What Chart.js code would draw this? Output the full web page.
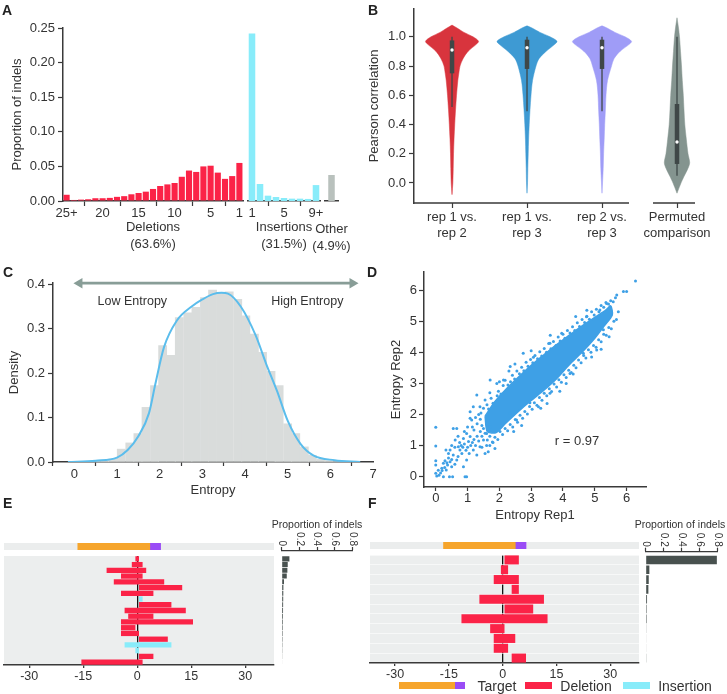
<!DOCTYPE html>
<html>
<head>
<meta charset="utf-8">
<script src="https://cdn.jsdelivr.net/npm/chart.js@4.4.1/dist/chart.umd.min.js"></script>
<style>
  body { margin: 0; background: #fff; width: 727px; height: 694px; position: relative; overflow: hidden;
         font-family: 'Liberation Sans', Arial, sans-serif; color: #333; }
  canvas { position: absolute; }
  .pl { position: absolute; font-weight: bold; font-size: 14px; line-height: 14px; color: #222; }
  .tx { position: absolute; white-space: nowrap; transform: translate(-50%, -50%); }
  .sw { position: absolute; height: 7px; }
</style>
</head>
<body>
<canvas id="a1"></canvas><canvas id="a2"></canvas><canvas id="a3"></canvas>
<canvas id="b"></canvas>
<canvas id="c"></canvas>
<canvas id="d"></canvas>
<canvas id="et"></canvas><canvas id="em"></canvas><canvas id="ep"></canvas>
<canvas id="ft"></canvas><canvas id="fm"></canvas><canvas id="fp"></canvas>

<div class="pl" style="left:2px;top:3px">A</div>
<div class="pl" style="left:368px;top:3px">B</div>
<div class="pl" style="left:3px;top:265px">C</div>
<div class="pl" style="left:367px;top:265px">D</div>
<div class="pl" style="left:3px;top:496px">E</div>
<div class="pl" style="left:368px;top:496px">F</div>

<div class="tx" style="left:317px;top:524px;font-size:10.5px;line-height:10.5px">Proportion of indels</div>
<div class="tx" style="left:680px;top:524px;font-size:10.5px;line-height:10.5px">Proportion of indels</div>

<div class="sw" style="left:399px;top:682px;width:56px;background:#f6a52c"></div>
<div class="sw" style="left:455px;top:682px;width:10px;background:#9a4cf6"></div>
<div class="tx" style="left:497px;top:686px;font-size:14px;line-height:14px">Target</div>
<div class="sw" style="left:525px;top:682px;width:27px;background:#fb2347"></div>
<div class="tx" style="left:586px;top:686px;font-size:14px;line-height:14px">Deletion</div>
<div class="sw" style="left:623px;top:682px;width:27px;background:#88ecfa"></div>
<div class="tx" style="left:685px;top:686px;font-size:14px;line-height:14px">Insertion</div>

<script>
// ---- panel A: indel size distribution
const delLabels = ['25+','24','23','22','21','20','19','18','17','16','15','14','13','12','11','10','9','8','7','6','5','4','3','2','1'];
const delValues = [0.009,0.0015,0.002,0.0025,0.004,0.004,0.0045,0.006,0.007,0.0097,0.0116,0.0135,0.0174,0.0217,0.024,0.026,0.035,0.044,0.042,0.050,0.051,0.041,0.032,0.036,0.055];
const delShown = ['25+','20','15','10','5','1'];
const insLabels = ['1','2','3','4','5','6','7','8','9+'];
const insValues = [0.242,0.0246,0.0077,0.0058,0.0043,0.0034,0.0034,0.003,0.023];
const insShown = ['1','5','9+'];
const otherValues = [0.0376];
const propTicks = [0, 0.05, 0.10, 0.15, 0.20, 0.25];

// ---- panel B: correlation between replicates
const bLabels = [['rep 1 vs.','rep 2'],['rep 1 vs.','rep 3'],['rep 2 vs.','rep 3'],['Permuted','comparison']];
const corrTicks = [0, 0.2, 0.4, 0.6, 0.8, 1.0];
const vLevels = [
  [-0.08,0,0.1,0.2,0.3,0.4,0.5,0.6,0.7,0.75,0.8,0.85,0.9,0.95,0.97,1.0,1.03,1.06,1.08],
  [-0.07,0,0.1,0.2,0.3,0.4,0.5,0.6,0.7,0.8,0.85,0.9,0.95,0.97,1.0,1.03,1.06,1.075],
  [-0.07,0,0.1,0.2,0.3,0.4,0.5,0.6,0.7,0.8,0.85,0.9,0.95,0.97,1.0,1.03,1.06,1.075],
  [-0.07,0,0.04,0.1,0.14,0.2,0.3,0.4,0.5,0.6,0.7,0.8,0.9,1.0,1.06,1.13]
];
const vDens = [
  [0,0.027,0.04,0.05,0.067,0.09,0.117,0.15,0.193,0.227,0.267,0.367,0.533,0.817,0.883,0.7,0.4,0.167,0],
  [0,0.017,0.027,0.04,0.053,0.073,0.1,0.133,0.183,0.3,0.4,0.633,0.933,1,0.767,0.433,0.167,0],
  [0,0.017,0.04,0.053,0.073,0.09,0.113,0.133,0.183,0.317,0.4,0.6,0.917,0.983,0.767,0.433,0.167,0],
  [0,0.133,0.223,0.367,0.423,0.367,0.31,0.26,0.233,0.21,0.177,0.15,0.117,0.083,0.05,0]
];
const whiskerLo = [0.52, 0.49, 0.49, 0.05];
const whiskerHi = [1.0, 1.0, 1.0, 1.0];
const boxLo = [0.75, 0.78, 0.78, 0.13];
const boxHi = [0.975, 0.98, 0.98, 0.54];
const medians = [0.91, 0.925, 0.925, 0.28];

// ---- panel C: entropy histogram + density
const histX = [0.51,0.71,0.9,1.1,1.3,1.49,1.68,1.88,2.07,2.27,2.46,2.66,2.85,3.05,3.24,3.44,3.63,3.83,4.02,4.22,4.41,4.61,4.8,5.0,5.19,5.39,5.58,5.78,5.97,6.17];
const histY = [0.002,0.003,0.007,0.029,0.043,0.064,0.123,0.172,0.262,0.24,0.325,0.336,0.348,0.37,0.387,0.381,0.383,0.366,0.329,0.288,0.247,0.204,0.172,0.086,0.064,0.034,0.015,0.006,0.003,0.001];
const kdeX = [-0.15,0.5,1.0,1.25,1.5,1.75,1.9,2.1,2.4,2.75,3.0,3.25,3.45,3.6,3.9,4.25,4.5,4.75,5.0,5.3,5.6,6.1,6.7];
const kdeY = [0,0.003,0.01,0.027,0.058,0.11,0.176,0.258,0.318,0.35,0.366,0.378,0.381,0.379,0.35,0.285,0.22,0.16,0.093,0.041,0.015,0.004,0];
const entropyTicks = [0,1,2,3,4,5,6,7];
const densityTicks = [0, 0.1, 0.2, 0.3, 0.4];
const arrowSpan = [0.12, 6.52];

// ---- panel D: entropy rep1 vs rep2 (dense core outline + individual guides)
const corePts = [[1.55,1.95],[1.85,2.4],[2.2,2.8],[2.6,3.2],[3.0,3.58],[3.4,3.92],[3.8,4.25],[4.2,4.55],[4.6,4.85],[5.0,5.12],[5.3,5.32],[5.5,5.48],
  [5.55,5.2],[5.3,4.85],[5.0,4.45],[4.6,4.0],[4.2,3.6],[3.8,3.15],[3.4,2.78],[3.0,2.45],[2.6,2.1],[2.2,1.72],[1.9,1.42],[1.62,1.45],[1.55,1.95]];
const sparsePts = [[0,1.59],[0,0.99],[0,0.51],[0,0.38],[0,0.11],[0.03,0.02],[0.08,0.21],[0.19,0.27],[0.24,0.43],[0.29,0.51],[0.37,0.38],[0.45,0.48],[0.5,0.32],[0.53,0],[0.43,0],[0.24,0],[0.32,0.86],[0.45,0.86],[0.55,1.55],[0.66,1.55],[0.61,1.18],[0.71,0.96],[0.76,0.86],[0.82,0.75],[0.92,0],[0.97,0],[0.87,0.32],[0.66,0.54],[0.97,0.54],[1.03,1.13],[1.08,1.29],[0.97,1.39],[0.87,1.23],[1.13,1.82],[1.08,1.88],[1.29,2.63],[1.18,0.86],[1.29,0.7],[1.39,0.96],[1.5,1.18],[1.55,0.75],[1.65,0.8],[1.6,1.39],[1.71,1.61],[1.86,0.91],[1.92,3.0],[2.13,3.11],[2.49,3.62],[3.07,3.84],[4.22,3.32],[4.32,3.3],[3.59,2.68],[3.23,2.25],[2.96,2.38],[2.54,1.82],[2.34,2.04],[2.07,1.71],[4.64,3.97],[5.06,4.07],[5.27,4.72],[5.48,5.47],[5.69,5.84],[5.9,5.95],[6.0,5.95],[6.28,6.29],[3.96,4.61],[3.59,4.29],[2.75,3.97],[2.34,3.54],[1.71,3.11],[1.55,2.47],[1.39,2.25],[1.18,2.25],[1.08,2.09],[4.74,5.14],[5.16,5.36],[5.37,5.57],
  [0.1,0.05],[0.15,0.12],[0.2,0.2],[0.28,0.3],[0.33,0.22],[0.35,0.45],[0.4,0.6],[0.5,0.55],[0.55,0.7],[0.6,0.4],[0.7,0.65],[0.75,1.1],[0.8,1.0],[0.85,0.95],[0.9,1.05],[0.95,0.85],[1.0,0.95],[1.05,0.75],[1.1,1.0],[1.15,1.1],[1.2,1.2],[1.25,1.0],[1.3,1.3],[1.35,1.15],[1.4,1.45],[1.45,1.3],[1.5,1.55],[1.55,1.4],[1.2,1.5],[1.3,1.7],[1.4,1.85],[1.45,1.65],[1.35,2.0],[1.25,1.9],[1.15,1.6],[1.0,1.6],[0.9,1.45],[0.7,1.3],[0.5,1.0],[0.4,0.75],[0.6,0.95],[1.7,1.0],[1.8,1.1],[1.6,1.0],[1.45,0.95]];
const edgePts = [[1.42,2.05],[1.5,2.2],[1.61,2.31],[1.66,2.18],[1.74,2.52],[1.8,2.36],[1.93,2.6],[1.97,2.75],[2.05,2.66],[2.12,2.93],[2.18,3.1],[2.27,2.95],[2.35,3.05],[2.41,3.26],[2.48,3.14],[2.55,3.4],[2.63,3.31],[2.7,3.52],[2.77,3.41],[2.84,3.68],[2.9,3.55],[2.98,3.77],[3.05,3.66],[3.12,3.9],[3.2,3.79],[3.27,4.02],[3.33,3.88],[3.41,4.12],[3.48,4.0],[3.55,4.28],[3.62,4.11],[3.7,4.35],[3.78,4.22],[3.85,4.49],[3.91,4.36],[4.0,4.58],[4.06,4.45],[4.14,4.7],[4.22,4.62],[4.3,4.82],[4.37,4.7],[4.45,4.95],[4.52,4.83],[4.6,5.05],[4.68,4.96],[4.75,5.16],[4.83,5.06],[4.9,5.3],[4.98,5.2],[5.05,5.38],[5.13,5.3],[5.2,5.5],[5.28,5.45],[5.35,5.6],[5.43,5.55],[5.5,5.66],[5.58,5.62],[5.65,5.75],
  [1.62,1.18],[1.7,1.3],[1.78,1.12],[1.86,1.27],[1.95,1.2],[2.02,1.45],[2.1,1.36],[2.18,1.55],[2.26,1.48],[2.34,1.68],[2.42,1.6],[2.5,1.84],[2.57,1.75],[2.65,1.98],[2.73,1.88],[2.8,2.1],[2.88,2.02],[2.95,2.26],[3.03,2.17],[3.1,2.38],[3.18,2.3],[3.26,2.55],[3.34,2.46],[3.41,2.68],[3.49,2.6],[3.57,2.83],[3.64,2.74],[3.72,2.98],[3.8,2.88],[3.87,3.12],[3.95,3.04],[4.03,3.28],[4.1,3.19],[4.18,3.42],[4.26,3.35],[4.34,3.58],[4.41,3.5],[4.49,3.75],[4.57,3.66],[4.65,3.9],[4.72,3.82],[4.8,4.08],[4.88,4.0],[4.96,4.22],[5.04,4.16],[5.12,4.4],[5.2,4.34],[5.28,4.58],[5.36,4.55],[5.44,4.8],[5.52,4.76],[5.6,5.0],[5.68,5.05],[5.74,5.3],
  [2.3,3.4],[2.0,3.05],[3.0,4.05],[3.6,4.55],[4.4,5.15],[4.1,3.0],[3.5,2.35],[2.7,1.65],[4.9,3.85],[5.2,4.1],[1.7,2.7],[2.45,1.45],[3.3,2.2],[4.75,5.35],[3.9,2.75],[5.45,4.5]];
const repTicks = [0,1,2,3,4,5,6];

// ---- panels E and F: indel profiles for two targets
const posTicks = [-30, -15, 0, 15, 30];
const fracTicks = [0, 0.2, 0.4, 0.6, 0.8];
const guideE = [-16.5, 3.5], pamE = [3.5, 6.5];
const eDel = [[-0.5,0.5],[-1.5,1.5],[-8.5,2.5],[-4.5,1.5],[-6.5,7.5],[0.5,12.5],[-4.5,4.5],null,[0.5,9.5],[-3.5,13.5],[-2.5,4.5],[-4.5,15.5],[-4.5,-0.5],[-4.5,0.5],[0.5,8.5],null,null,[0.5,4.5],[-15.5,1.5]];
const eIns = [null,null,null,null,null,null,null,[0.5,1.5],null,null,null,null,null,null,null,[-3.5,9.5],[-0.5,0.5],null,null];
const eProp = [0.087,0.068,0.064,0.057,0.026,0.019,0.018,0.017,0.016,0.015,0.014,0.013,0.012,0.011,0.010,0.009,0.008,0.007,0.006];
const guideF = [-16.5, 3.5], pamF = [3.5, 6.5];
const fDel = [[0.5,4.5],[-0.5,1.5],[-2.5,4.5],[2.5,4.5],[-6.5,11.5],[0.5,8.5],[-11.5,12.5],[-3.5,0.5],[-2.5,3.5],[-2.5,1.5],[2.5,6.5]];
const fIns = [null,null,null,null,null,null,null,null,null,null,null];
const fProp = [0.795,0.041,0.034,0.03,0.015,0.011,0.011,0.007,0.005,0.005,0.004];

const FONT = "'Liberation Sans', Arial, sans-serif";
const AX = '#3a3a3a';
const RED = '#fb2347', CYAN = '#88ecfa', ORANGE = '#f6a52c', PURPLE = '#9a4cf6';

Chart.defaults.font.family = FONT;
Chart.defaults.font.size = 13;
Chart.defaults.color = '#333';
Chart.defaults.animation = false;
Chart.defaults.responsive = false;
Chart.defaults.events = [];
Chart.defaults.plugins.legend.display = false;
Chart.defaults.plugins.tooltip.enabled = false;

// text placed in data coordinates
const notes = {
  id: 'notes',
  afterDatasetsDraw(chart, args, opts) {
    if (!opts.items) return;
    const ctx = chart.ctx, x = chart.scales.x, y = chart.scales.y;
    ctx.save();
    opts.items.forEach(it => {
      ctx.font = (it.size || 13) + 'px ' + FONT;
      ctx.fillStyle = '#333';
      ctx.textAlign = 'center';
      ctx.textBaseline = 'middle';
      ctx.fillText(it.text, x.getPixelForValue(it.x), y.getPixelForValue(it.y));
    });
    ctx.restore();
  }
};
// fill of the plot area
const bg = {
  id: 'bg',
  beforeDraw(chart, args, opts) {
    if (!opts.color) return;
    const a = chart.chartArea, ctx = chart.ctx;
    ctx.save();
    ctx.fillStyle = opts.color;
    ctx.fillRect(a.left, a.top, a.right - a.left, a.bottom - a.top);
    ctx.restore();
  }
};
// broken x axis line
const segAxis = {
  id: 'segAxis',
  afterDraw(chart, args, opts) {
    if (!opts.segs) return;
    const ctx = chart.ctx, x = chart.scales.x, yb = chart.chartArea.bottom;
    ctx.save();
    ctx.strokeStyle = AX;
    ctx.lineWidth = 1.5;
    ctx.beginPath();
    opts.segs.forEach(s => {
      ctx.moveTo(x.getPixelForValue(s[0]), yb);
      ctx.lineTo(x.getPixelForValue(s[1]), yb);
    });
    ctx.stroke();
    ctx.restore();
  }
};
// tick labels of a top axis, turned a quarter clockwise
const rotTicks = {
  id: 'rotTicks',
  afterDraw(chart, args, opts) {
    if (!opts.on) return;
    const ctx = chart.ctx, s = chart.scales.x;
    ctx.save();
    ctx.font = '10px ' + FONT;
    ctx.fillStyle = '#333';
    s.ticks.forEach(t => {
      ctx.save();
      ctx.translate(s.getPixelForValue(t.value), s.bottom - 5);
      ctx.rotate(Math.PI / 2);
      ctx.textAlign = 'right';
      ctx.textBaseline = 'middle';
      ctx.fillText(t.value === 0 ? '0' : t.value.toFixed(1), 0, 0);
      ctx.restore();
    });
    ctx.restore();
  }
};
Chart.register(notes, bg, segAxis, rotTicks);

// put a chart so that its plot area lands on `area` (page pixels)
function make(id, box, area, yW, xH, xTop, cfg) {
  const cv = document.getElementById(id);
  cv.width = box[2];
  cv.height = box[3];
  cv.style.left = box[0] + 'px';
  cv.style.top = box[1] + 'px';
  cfg.options.layout = { padding: {
    left: area[0] - box[0] - yW,
    right: box[0] + box[2] - area[2],
    top: area[1] - box[1] - (xTop ? xH : 0),
    bottom: box[1] + box[3] - area[3] - (xTop ? 0 : xH)
  } };
  const sc = cfg.options.scales;
  sc.x.afterFit = s => { s.height = xH; s.paddingLeft = 0; s.paddingRight = 0; };
  sc.y.afterFit = s => { s.width = yW; s.paddingTop = 0; s.paddingBottom = 0; };
  return new Chart(cv, cfg);
}
const fixTicks = arr => s => { s.ticks = arr.map(v => ({ value: v })); };
const tickGrid = len => ({ drawOnChartArea: false, tickLength: len, color: AX, tickWidth: 1.2 });
const border = { color: AX, width: 1.5 };
const xy = p => ({ x: p[0], y: p[1] });

// ---------- A
const aY = { min: 0, max: 0.25, afterBuildTicks: fixTicks(propTicks), ticks: { callback: v => v.toFixed(2), padding: 3 },
  grid: tickGrid(5), border: border,
  title: { display: true, text: 'Proportion of indels', padding: { top: 10, bottom: 0 } } };
const hiddenY = { min: 0, max: 0.25, display: false };
const aTitleFont = { size: 13, lineHeight: 1.3 };

make('a1', [0, 0, 246, 256], [63, 28, 243, 201], 63, 52, false, {
  type: 'bar',
  data: { labels: delLabels, datasets: [{ data: delValues, backgroundColor: RED, barPercentage: 0.85, categoryPercentage: 1 }] },
  options: { scales: {
    x: { grid: tickGrid(5), border: border,
         ticks: { autoSkip: false, maxRotation: 0, padding: 0, callback: (v, i) => delShown.includes(delLabels[i]) ? delLabels[i] : null },
         title: { display: true, text: ['Deletions', '(63.6%)'], padding: { top: 0, bottom: 0 }, font: aTitleFont } },
    y: aY } }
});
make('a2', [246, 0, 80, 256], [248, 28, 320, 201], 0, 52, false, {
  type: 'bar',
  data: { labels: insLabels, datasets: [{ data: insValues, backgroundColor: CYAN, barPercentage: 0.82, categoryPercentage: 1 }] },
  options: { scales: {
    x: { grid: tickGrid(5), border: border,
         ticks: { autoSkip: false, maxRotation: 0, padding: 0, callback: (v, i) => insShown.includes(insLabels[i]) ? insLabels[i] : null },
         title: { display: true, text: ['Insertions', '(31.5%)'], padding: { top: 0, bottom: 0 }, font: aTitleFont } },
    y: hiddenY } }
});
make('a3', [300, 0, 60, 262], [325, 28, 338, 201], 0, 58, false, {
  type: 'bar',
  data: { labels: [['Other', '(4.9%)']], datasets: [{ data: otherValues, backgroundColor: '#b9c1bd', barPercentage: 0.5, categoryPercentage: 1 }] },
  options: { scales: {
    x: { grid: { display: false }, border: border, ticks: { maxRotation: 0, padding: 12, font: aTitleFont } },
    y: hiddenY } }
});

// ---------- B
const VW = 0.4;
const VCOL = ['#d8343d', '#3e9ad3', '#9f9cf7', '#84948f'];
const bSets = [];
vLevels.forEach((lv, i) => {
  const pts = [];
  for (let k = 0; k < lv.length; k++) pts.push({ x: i + vDens[i][k] * VW, y: lv[k] });
  for (let k = lv.length - 1; k >= 0; k--) pts.push({ x: i - vDens[i][k] * VW, y: lv[k] });
  bSets.push({ data: pts, fill: 'shape', backgroundColor: VCOL[i], borderColor: VCOL[i], borderWidth: 0.5, pointRadius: 0, tension: 0.3, order: 3 });
  bSets.push({ data: [{ x: i, y: whiskerLo[i] }, { x: i, y: whiskerHi[i] }], borderColor: '#3f4747', borderWidth: 1.3, pointRadius: 0, order: 2 });
  bSets.push({ data: [{ x: i, y: boxLo[i] }, { x: i, y: boxHi[i] }], borderColor: '#3f4747', borderWidth: 4.5, pointRadius: 0, order: 1 });
});
bSets.push({ data: medians.map((m, i) => ({ x: i, y: m })), showLine: false, pointRadius: 1.7, pointBorderWidth: 0, pointBackgroundColor: '#fff', order: 0 });

make('b', [360, 0, 367, 250], [414, 9, 695, 203], 54, 42, false, {
  type: 'line',
  data: { datasets: bSets },
  options: { scales: {
    x: { type: 'linear', min: -0.507, max: 3.24, afterBuildTicks: fixTicks([0, 1, 2, 3]),
         ticks: { callback: (v, i) => bLabels[i], maxRotation: 0, padding: 1, font: { lineHeight: 1.25 } },
         grid: tickGrid(5), border: { display: false } },
    y: { min: -0.137, max: 1.19, afterBuildTicks: fixTicks(corrTicks), ticks: { callback: v => v.toFixed(1), padding: 3 },
         grid: tickGrid(5), border: border,
         title: { display: true, text: 'Pearson correlation', padding: { top: 7, bottom: 0 } } } },
    plugins: { segAxis: { segs: [[-0.507, 2.36], [2.68, 3.24]] } } }
});

// ---------- C
make('c', [0, 262, 382, 238], [53, 283, 373, 462], 53, 36, false, {
  type: 'bar',
  data: { datasets: [
    { type: 'line', data: arrowSpan.map(v => ({ x: v, y: 0.4025 })), borderColor: '#889d97', borderWidth: 2.8,
      pointStyle: 'triangle', pointRadius: 6, pointRotation: [-90, 90], pointBackgroundColor: '#889d97', pointBorderWidth: 0,
      clip: false, order: 0 },
    { type: 'line', data: kdeX.map((v, i) => ({ x: v, y: kdeY[i] })), borderColor: '#5bbdec', borderWidth: 2,
      pointRadius: 0, cubicInterpolationMode: 'monotone', order: 1 },
    { type: 'bar', data: histX.map((v, i) => ({ x: v, y: histY[i] })), backgroundColor: '#d9dcdb',
      barPercentage: 1, categoryPercentage: 1, order: 2 }
  ] },
  options: { scales: {
    x: { type: 'linear', min: -0.5, max: 7, offset: false, afterBuildTicks: fixTicks(entropyTicks),
         ticks: { padding: 1 }, grid: tickGrid(4), border: border,
         title: { display: true, text: 'Entropy', padding: { top: 0, bottom: 0 } } },
    y: { min: 0, max: 0.403, afterBuildTicks: fixTicks(densityTicks), ticks: { callback: v => v.toFixed(1), padding: 3 },
         grid: tickGrid(5), border: border,
         title: { display: true, text: 'Density', padding: { top: 7, bottom: 0 } } } },
    plugins: { notes: { items: [ { text: 'Low Entropy', x: 1.36, y: 0.362, size: 12.5 },
                                 { text: 'High Entropy', x: 5.46, y: 0.362, size: 12.5 } ] } } }
});

// ---------- D
const DBLUE = '#3ea0e6';
make('d', [362, 262, 365, 262], [424, 272, 646, 487], 40, 36, false, {
  type: 'line',
  data: { datasets: [
    { data: sparsePts.concat(edgePts).map(xy), showLine: false, pointRadius: 1.5, pointBorderWidth: 0,
      pointBackgroundColor: DBLUE, order: 0 },
    { data: corePts.map(xy), fill: 'shape', backgroundColor: DBLUE, borderColor: DBLUE,
      borderWidth: 1.5, pointRadius: 0, tension: 0.25, order: 1 }
  ] },
  options: { scales: {
    x: { type: 'linear', min: -0.37, max: 6.61, afterBuildTicks: fixTicks(repTicks), ticks: { padding: 0 },
         grid: tickGrid(4), border: border, title: { display: true, text: 'Entropy Rep1', padding: { top: 0, bottom: 0 } } },
    y: { min: -0.33, max: 6.58, afterBuildTicks: fixTicks(repTicks), ticks: { padding: 2 },
         grid: tickGrid(5), border: border, title: { display: true, text: 'Entropy Rep2', padding: { top: 5, bottom: 0 } } } },
    plugins: { notes: { items: [ { text: 'r = 0.97', x: 4.44, y: 1.12 } ] } } }
});

// ---------- E / F
function targetChart(id, box, area, guide, pam) {
  return make(id, box, area, 0, 0, false, {
    type: 'bar',
    data: { labels: ['target'], datasets: [
      { data: [guide], backgroundColor: ORANGE, grouped: false, barPercentage: 1, categoryPercentage: 1 },
      { data: [pam], backgroundColor: PURPLE, grouped: false, barPercentage: 1, categoryPercentage: 1 }
    ] },
    options: { indexAxis: 'y', scales: { x: { type: 'linear', min: -37, max: 38, display: false }, y: { display: false } },
      plugins: { bg: { color: '#ebeded' } } }
  });
}
function profileChart(id, box, area, del, ins, rowLine) {
  return make(id, box, area, 0, 20, false, {
    type: 'bar',
    data: { labels: del.map((_, i) => 'r' + (i + 1)), datasets: [
      { data: del, backgroundColor: RED, grouped: false, barPercentage: 0.92, categoryPercentage: 1 },
      { data: ins, backgroundColor: CYAN, grouped: false, barPercentage: 0.92, categoryPercentage: 1 }
    ] },
    options: { indexAxis: 'y', scales: {
      x: { type: 'linear', min: -37, max: 38, z: 1, afterBuildTicks: fixTicks(posTicks), ticks: { padding: 1, font: { size: 12.5 } },
           grid: { tickLength: 3, tickColor: AX, lineWidth: 1.3, color: c => (c.tick && c.tick.value === 0) ? '#111' : 'rgba(0,0,0,0)' },
           border: border },
      y: { ticks: { display: false }, border: { display: false },
           grid: { offset: true, drawTicks: false, color: rowLine, lineWidth: 0.8 } } },
      plugins: { bg: { color: '#eceeee' } } }
  });
}
function propChart(id, box, area, vals, gapRows) {
  return make(id, box, area, 0, area[1] - box[1], true, {
    type: 'bar',
    data: { datasets: [ { data: vals.map((v, i) => ({ x: v, y: i })), backgroundColor: '#48514f',
      barPercentage: 0.88, categoryPercentage: 1 } ] },
    options: { indexAxis: 'y', scales: {
      x: { type: 'linear', position: 'top', min: 0, max: 0.8, afterBuildTicks: fixTicks(fracTicks),
           ticks: { display: false }, grid: tickGrid(4), border: { color: AX, width: 1.3 } },
      y: { type: 'linear', reverse: true, offset: false, min: -0.5 - gapRows, max: vals.length - 0.5, display: false } },
      plugins: { rotTicks: { on: true } } }
  });
}

targetChart('et', [0, 540, 280, 14], [4, 543, 274, 550], guideE, pamE);
profileChart('em', [0, 551, 285, 143], [4, 556, 274, 665], eDel, eIns, 'rgba(0,0,0,0)');
propChart('ep', [276, 514, 90, 160], [281.7, 551, 352.7, 665], eProp, 0.87);

targetChart('ft', [366, 539, 280, 14], [370, 542, 639, 549], guideF, pamF);
profileChart('fm', [366, 551, 280, 143], [370, 555, 639, 663], fDel, fIns, 'rgba(255,255,255,0.75)');
propChart('fp', [640, 514, 87, 152], [645.7, 551.7, 717.3, 663], fProp, 0.34);
</script>
</body>
</html>
